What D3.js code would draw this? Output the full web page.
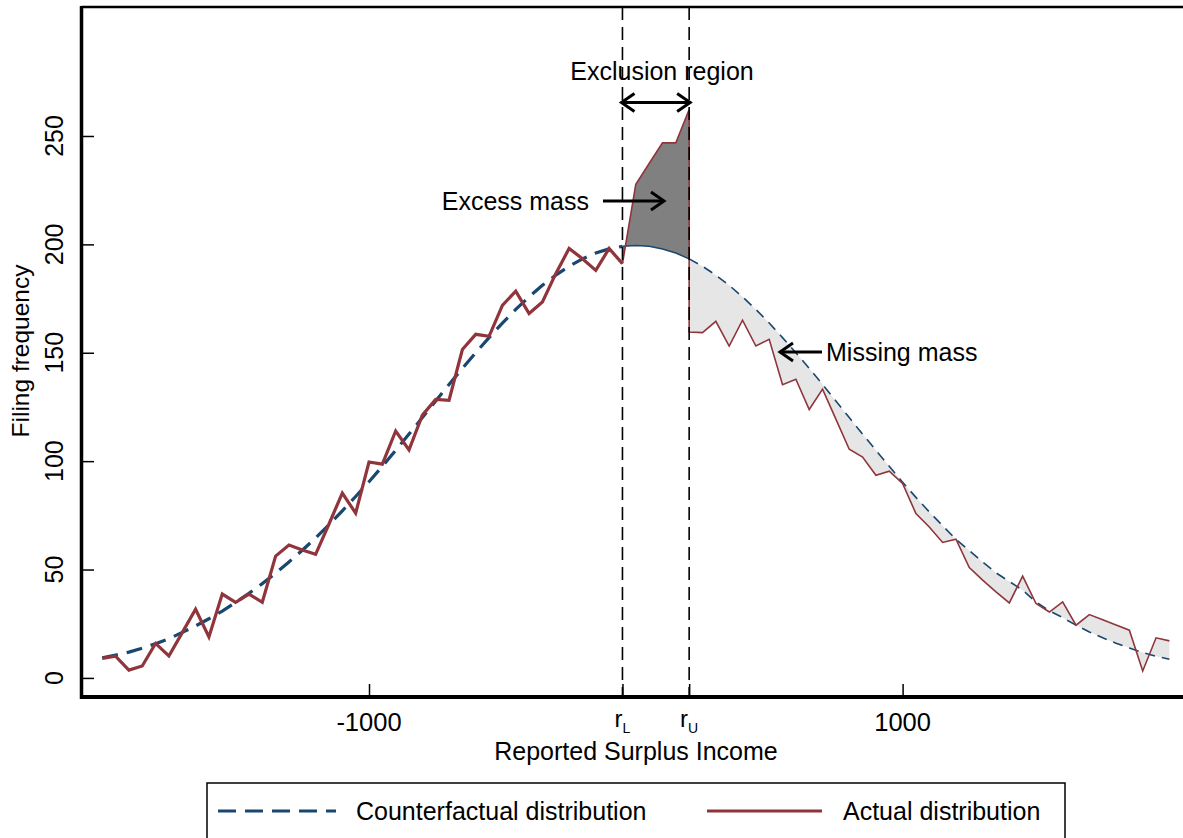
<!DOCTYPE html>
<html><head><meta charset="utf-8">
<script src="https://cdn.jsdelivr.net/npm/d3@7"></script>
<style>
body{margin:0;background:#fff}
svg{display:block}
text, tspan{font-family:"Liberation Sans",Arial,Helvetica,sans-serif;fill:#000}
</style>
</head><body>
<svg id="chart" width="1183" height="838"></svg>
<script>
// ---- data ----
const incomeBins = [-2000,-1950,-1900,-1850,-1800,-1750,-1700,-1650,-1600,-1550,-1500,-1450,-1400,-1350,-1300,-1250,-1200,-1150,-1100,-1050,
  -1000,-950,-900,-850,-800,-750,-700,-650,-600,-550,-500,-450,-400,-350,-300,-250,-200,-150,-100,-50,
  0,50,100,150,200,250,300,350,400,450,500,550,600,650,700,750,800,850,900,950,
  1000,1050,1100,1150,1200,1250,1300,1350,1400,1450,1500,1550,1600,1650,1700,1750,1800,1850,1900,1950,2000];
const counterfactual = [9.3,10.5,11.9,13.7,15.8,18.1,21.0,24.0,27.3,30.8,34.8,39.0,43.5,48.3,53.5,58.9,64.6,70.7,77.1,83.7,
  90.5,97.6,105.0,112.5,120.1,127.8,135.4,142.8,150.0,157.0,163.7,170.0,175.8,181.1,185.8,189.9,193.3,196.0,197.9,199.1,
  199.5,199.1,197.9,196.0,193.3,189.9,185.8,181.1,175.8,170.0,163.7,157.0,150.0,142.8,135.4,127.8,120.1,112.5,105.0,97.6,
  90.3,83.3,76.6,70.2,63.9,58.8,53.5,48.5,44.5,40.5,35.0,31.0,27.8,24.3,21.2,18.5,16.0,13.8,11.7,10.0,8.6];
const actualBelow = [9,10,3.6,5.5,15.9,10.1,20.9,31.7,18.9,38.7,34.9,38.7,34.9,56.2,61.3,59,57,71,85.3,76,
  99.6,98.6,113.9,105.2,121.2,128.5,128.1,151.5,158.5,157.6,171.9,178.4,168.1,173.4,186.5,198.1,193.4,188,198.1,191.1];
const actualExclusion = [191.1,227.7,237.3,246.8,246.8,262.2];
const actualAbove = [159.6,159.3,164.5,153.1,165,153.1,156.2,135.3,137.8,123.8,133.2,119.4,105.5,101.9,93.5,95.4,
  89.7,75.8,69.6,62.5,64,50.9,45.1,39.7,34.6,47,34.3,30.4,35.1,24.3,29.2,26.8,24.4,22,3.2,18.5,17.1];
const rL = -50, rU = 200;
const xTickValues = [-1000, 1000];
const xTickLabels = ["-1000", "1000"];
const yTickValues = [0, 50, 100, 150, 200, 250];

// ---- colours ----
const RED = "#90353b", NAVY = "#1a476f";

const svg = d3.select("#chart");
const x = d3.scaleLinear().domain([-2077.6, 2051]).range([81.5, 1183]);
const y = d3.scaleLinear().domain([-8.8, 309.5]).range([697, 7]);

const cfMap = new Map(incomeBins.map((b, i) => [b, counterfactual[i]]));
const cf = incomeBins.map((b, i) => ({x: b, y: counterfactual[i]}));
const below = incomeBins.filter(b => b <= rL).map((b, i) => ({x: b, y: actualBelow[i]}));
const excl = incomeBins.filter(b => b >= rL && b <= rU).map((b, i) => ({x: b, y: actualExclusion[i]}));
const above = incomeBins.filter(b => b >= rU).map((b, i) => ({x: b, y: actualAbove[i]}));

const line = d3.line().x(d => x(d.x)).y(d => y(d.y));
const area = d3.area().x(d => x(d.x)).y0(d => y(cfMap.get(d.x))).y1(d => y(d.y));

// fills
svg.append("path").datum(above).attr("d", area).attr("fill", "#e6e6e6");
svg.append("path").datum(excl).attr("d", area).attr("fill", "#808080");

// counterfactual
svg.append("path").datum(cf.filter(d => d.x <= rL)).attr("d", line)
  .attr("fill", "none").attr("stroke", NAVY).attr("stroke-width", 3.2).attr("stroke-dasharray", "16,9");
svg.append("path").datum(cf.filter(d => d.x >= rL && d.x <= rU)).attr("d", line)
  .attr("fill", "none").attr("stroke", NAVY).attr("stroke-width", 1.5);
svg.append("path").datum(cf.filter(d => d.x >= rU)).attr("d", line)
  .attr("fill", "none").attr("stroke", NAVY).attr("stroke-width", 1.6).attr("stroke-dasharray", "10,7");

// actual
svg.append("path").datum(below).attr("d", line)
  .attr("fill", "none").attr("stroke", RED).attr("stroke-width", 3.2).attr("stroke-linejoin", "miter");
svg.append("path").datum(excl.concat(above)).attr("d", line)
  .attr("fill", "none").attr("stroke", RED).attr("stroke-width", 1.6);

// exclusion boundaries
[rL, rU].forEach(v => {
  svg.append("line").attr("x1", x(v)).attr("x2", x(v)).attr("y1", 7).attr("y2", 697)
    .attr("stroke", "#000").attr("stroke-width", 1.6).attr("stroke-dasharray", "13,7");
});

// axes
svg.append("line").attr("x1", 81.5).attr("x2", 1183).attr("y1", 7).attr("y2", 7).attr("stroke", "#000").attr("stroke-width", 2.5);
svg.append("line").attr("x1", 81.5).attr("x2", 81.5).attr("y1", 6).attr("y2", 699).attr("stroke", "#000").attr("stroke-width", 3.5);
svg.append("line").attr("x1", 80).attr("x2", 1183).attr("y1", 697).attr("y2", 697).attr("stroke", "#000").attr("stroke-width", 4);

const yAxis = d3.axisRight(y).tickValues(yTickValues).tickSize(12).tickFormat("");
svg.append("g").attr("transform", "translate(82,0)").call(yAxis)
  .call(g => g.select(".domain").remove())
  .call(g => g.selectAll("line").attr("stroke-width", 1.5));
yTickValues.forEach(v => {
  svg.append("text").attr("transform", `translate(63,${y(v)}) rotate(-90)`)
    .attr("text-anchor", "middle").attr("font-size", 25).text(v);
});

const xAxis = d3.axisTop(x).tickValues(xTickValues.concat([rL, rU])).tickSize(12).tickFormat("");
svg.append("g").attr("transform", "translate(0,696)").call(xAxis)
  .call(g => g.select(".domain").remove())
  .call(g => g.selectAll("line").attr("stroke-width", 1.5));
xTickValues.forEach((v, i) => {
  svg.append("text").attr("x", x(v)).attr("y", 731).attr("text-anchor", "middle").attr("font-size", 25.5).text(xTickLabels[i]);
});
[[rL, "L"], [rU, "U"]].forEach(([v, s]) => {
  const t = svg.append("text").attr("x", x(v)).attr("y", 727).attr("text-anchor", "middle").attr("font-size", 24);
  t.append("tspan").attr("fill", "#000").text("r");
  t.append("tspan").attr("fill", "#000").attr("font-size", 14).attr("dy", 6).text(s);
});

svg.append("text").attr("x", 636).attr("y", 760).attr("text-anchor", "middle").attr("font-size", 25).text("Reported Surplus Income");
svg.append("text").attr("transform", "translate(29,351) rotate(-90)").attr("text-anchor", "middle").attr("font-size", 24.5).text("Filing frequency");

// annotations
function chevron(px, py, dir) {
  return `M${px - dir * 13},${py - 9} L${px},${py} L${px - dir * 13},${py + 9}`;
}
const ann = svg.append("g").attr("stroke", "#000").attr("stroke-width", 3).attr("fill", "none");
const xl = x(rL) - 1, xu = x(rU) + 1;
ann.append("line").attr("x1", xl + 1).attr("x2", xu - 1).attr("y1", 102.5).attr("y2", 102.5);
ann.append("path").attr("d", chevron(xl, 102.5, -1));
ann.append("path").attr("d", chevron(xu, 102.5, 1));
ann.append("line").attr("x1", 603).attr("x2", 664).attr("y1", 201).attr("y2", 201);
ann.append("path").attr("d", chevron(664, 201, 1));
ann.append("line").attr("x1", 822).attr("x2", 780).attr("y1", 352).attr("y2", 352);
ann.append("path").attr("d", chevron(780, 352, -1));

svg.append("text").attr("x", 662).attr("y", 80).attr("text-anchor", "middle").attr("font-size", 25).text("Exclusion region");
svg.append("text").attr("x", 589).attr("y", 210).attr("text-anchor", "end").attr("font-size", 25).text("Excess mass");
svg.append("text").attr("x", 826).attr("y", 361).attr("font-size", 25).text("Missing mass");

// legend
svg.append("rect").attr("x", 207).attr("y", 783).attr("width", 858).attr("height", 80)
  .attr("fill", "none").attr("stroke", "#000").attr("stroke-width", 1.5);
svg.append("line").attr("x1", 218).attr("x2", 336).attr("y1", 811).attr("y2", 811)
  .attr("stroke", NAVY).attr("stroke-width", 3.2).attr("stroke-dasharray", "18,9");
svg.append("text").attr("x", 356).attr("y", 820).attr("font-size", 25).text("Counterfactual distribution");
svg.append("line").attr("x1", 707).attr("x2", 822).attr("y1", 811).attr("y2", 811)
  .attr("stroke", RED).attr("stroke-width", 3.2);
svg.append("text").attr("x", 843).attr("y", 820).attr("font-size", 25).text("Actual distribution");
</script>
</body></html>
